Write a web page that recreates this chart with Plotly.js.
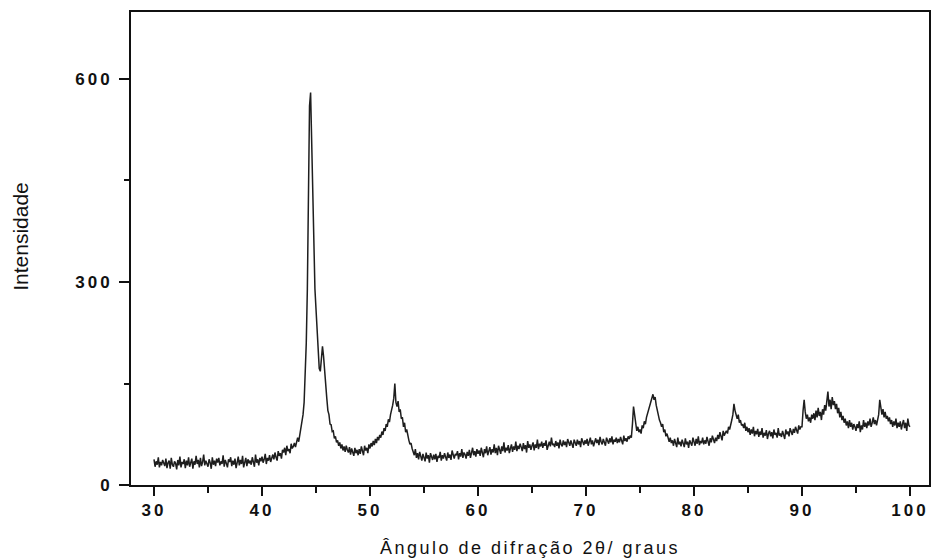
<!DOCTYPE html>
<html>
<head>
<meta charset="utf-8">
<script src="https://cdn.plot.ly/plotly-3.0.1.min.js"></script>
<style>
  html, body { margin: 0; padding: 0; background: #fff; }
  #chart { width: 932px; height: 559px; }
  .xtick text, .ytick text { letter-spacing: 3px; }
  .g-xtitle text { letter-spacing: 2.5px; }
  .g-ytitle { transform: translateY(-12px); }
</style>
</head>
<body>
<div id="chart"></div>
<script>
// 2θ sampling grid: start and step of the scan (degrees)
const twoThetaStart = 30.0;
const twoThetaStep = 0.1;

// Intensity, one value per 0.1° from 30.0° to 100.0°
const intensity = [
  /*30*/ 38,27,35,30,41,26,34,29,37,31,
  /*31*/ 28,39,25,33,36,24,40,30,27,35,
  /*32*/ 32,23,37,29,42,26,34,31,38,25,
  /*33*/ 36,29,41,27,33,39,24,35,30,43,
  /*34*/ 31,37,26,40,28,34,45,29,36,32,
  /*35*/ 27,38,33,24,41,30,36,28,39,33,
  /*36*/ 40,29,35,31,44,27,37,32,26,38,
  /*37*/ 34,41,28,36,30,39,25,33,42,29,
  /*38*/ 37,31,43,26,35,40,28,38,32,36,
  /*39*/ 30,41,34,27,45,33,38,29,40,35,
  /*40*/ 42,33,38,46,31,40,36,44,34,39,
  /*41*/ 45,38,48,41,36,50,43,47,39,52,
  /*42*/ 48,55,44,58,50,53,47,61,54,57,
  /*43*/ 62,56,66,70,64,74,82,92,104,122,
  /*44*/ 160,210,290,420,560,580,500,410,340,290,
  /*45*/ 260,230,200,172,168,195,205,190,165,142,
  /*46*/ 128,110,104,90,89,79,80,69,72,63,
  /*47*/ 66,58,63,54,60,51,57,49,58,52,
  /*48*/ 48,56,45,54,50,43,55,47,52,44,
  /*49*/ 53,46,57,49,44,58,51,55,47,60,
  /*50*/ 54,62,57,65,59,68,62,71,66,74,
  /*51*/ 70,79,74,84,80,90,86,97,93,104,
  /*52*/ 110,118,128,150,122,116,124,108,112,98,
  /*53*/ 100,86,92,78,82,70,66,60,62,54,
  /*54*/ 50,44,53,40,47,38,49,42,36,46,
  /*55*/ 41,35,48,39,44,33,47,40,37,45,
  /*56*/ 38,46,34,43,40,49,36,44,39,47,
  /*57*/ 42,36,48,40,45,37,51,43,39,46,
  /*58*/ 44,50,38,47,42,53,40,48,45,39,
  /*59*/ 49,43,52,40,47,55,44,50,42,53,
  /*60*/ 46,51,43,55,48,41,53,47,57,44,
  /*61*/ 50,56,45,53,48,60,47,55,44,58,
  /*62*/ 52,46,57,50,63,48,55,51,59,47,
  /*63*/ 54,60,49,57,52,64,50,58,53,61,
  /*64*/ 56,50,62,53,59,48,65,55,60,52,
  /*65*/ 58,63,51,60,55,67,53,61,57,64,
  /*66*/ 55,62,58,66,52,60,64,57,70,59,
  /*67*/ 61,56,65,58,63,54,67,60,57,66,
  /*68*/ 59,64,56,68,61,58,66,62,55,67,
  /*69*/ 63,58,67,60,65,56,69,62,59,66,
  /*70*/ 61,68,58,64,70,60,66,57,63,69,
  /*71*/ 62,67,59,71,64,60,68,63,58,70,
  /*72*/ 65,61,69,63,72,60,67,64,70,62,
  /*73*/ 68,63,71,66,60,73,65,69,64,72,
  /*74*/ 68,73,70,90,116,104,88,80,86,78,
  /*75*/ 82,76,88,84,94,90,100,106,112,118,
  /*76*/ 122,128,134,126,130,118,110,104,96,92,
  /*77*/ 86,90,78,82,72,76,68,64,70,62,
  /*78*/ 66,58,68,61,56,70,60,64,57,67,
  /*79*/ 62,56,69,60,64,55,66,61,58,70,
  /*80*/ 63,58,68,61,72,59,65,62,70,60,
  /*81*/ 66,61,71,64,58,69,63,73,66,62,
  /*82*/ 70,65,74,68,78,71,66,80,73,77,
  /*83*/ 80,76,86,82,92,96,104,120,110,102,
  /*84*/ 98,104,92,96,88,90,84,92,80,86,
  /*85*/ 78,84,74,82,76,86,72,80,75,83,
  /*86*/ 71,79,74,84,70,77,73,81,68,76,
  /*87*/ 80,72,78,69,82,74,77,70,84,73,
  /*88*/ 76,71,80,74,68,82,75,79,72,84,
  /*89*/ 78,74,83,77,86,80,76,88,82,86,
  /*90*/ 86,110,126,108,98,104,94,100,92,104,
  /*91*/ 98,106,96,110,100,114,102,108,96,112,
  /*92*/ 104,118,110,124,138,116,126,112,130,118,
  /*93*/ 124,112,120,106,114,100,108,96,102,92,
  /*94*/ 98,88,94,84,96,86,92,82,90,86,
  /*95*/ 80,90,84,94,78,88,82,96,86,92,
  /*96*/ 84,94,88,98,86,92,100,90,96,88,
  /*97*/ 98,104,126,110,104,112,100,108,98,102,
  /*98*/ 94,100,90,96,86,94,88,98,84,92,
  /*99*/ 86,94,82,90,96,84,92,80,98,88,
  /*100*/ 86
];

const twoTheta = intensity.map((_, i) => +(twoThetaStart + i * twoThetaStep).toFixed(2));

const xTickVals = [30, 40, 50, 60, 70, 80, 90, 100];
const xTickText = ['30', '40', '50', '60', '70', '80', '90', '100'];
const yTickVals = [0, 300, 600];
const yTickText = ['0', '300', '600'];

const xTitle = 'Ângulo de difração 2θ/ graus';
const yTitle = 'Intensidade';

const trace = {
  x: twoTheta,
  y: intensity,
  type: 'scatter',
  mode: 'lines',
  line: { color: '#1e1e1e', width: 1.5 },
  hoverinfo: 'skip'
};

const tickFont = { family: 'Liberation Sans, Arial, sans-serif', size: 17, color: '#111', weight: 'bold' };

const layout = {
  width: 932,
  height: 559,
  margin: { l: 131, r: 3, t: 12, b: 74 },
  paper_bgcolor: '#fff',
  plot_bgcolor: '#fff',
  showlegend: false,
  xaxis: {
    range: [27.87, 101.76],
    tickmode: 'array',
    tickvals: xTickVals,
    ticktext: xTickText,
    ticks: 'outside',
    ticklen: 9,
    tickwidth: 2,
    tickcolor: '#111',
    minor: { dtick: 5, tick0: 30, ticks: 'outside', ticklen: 6, tickwidth: 2, tickcolor: '#111', showgrid: false },
    showline: true,
    linecolor: '#111',
    linewidth: 2,
    mirror: true,
    showgrid: false,
    zeroline: false,
    tickfont: tickFont,
    title: { text: xTitle, font: { family: 'Liberation Sans, Arial, sans-serif', size: 18, color: '#111' }, standoff: 22 },
    automargin: false
  },
  yaxis: {
    range: [0, 699],
    tickmode: 'array',
    tickvals: yTickVals,
    ticktext: yTickText,
    ticks: 'outside',
    ticklen: 10,
    tickwidth: 2,
    tickcolor: '#111',
    minor: { dtick: 150, tick0: 0, ticks: 'outside', ticklen: 5, tickwidth: 2, tickcolor: '#111', showgrid: false },
    showline: true,
    linecolor: '#111',
    linewidth: 2,
    mirror: true,
    showgrid: false,
    zeroline: false,
    tickfont: tickFont,
    ticklabelstandoff: 3,
    title: { text: yTitle, font: { family: 'Liberation Sans, Arial, sans-serif', size: 21, color: '#111' }, standoff: 41 },
    automargin: false
  }
};

Plotly.newPlot('chart', [trace], layout, { displayModeBar: false, staticPlot: true });
</script>
</body>
</html>
